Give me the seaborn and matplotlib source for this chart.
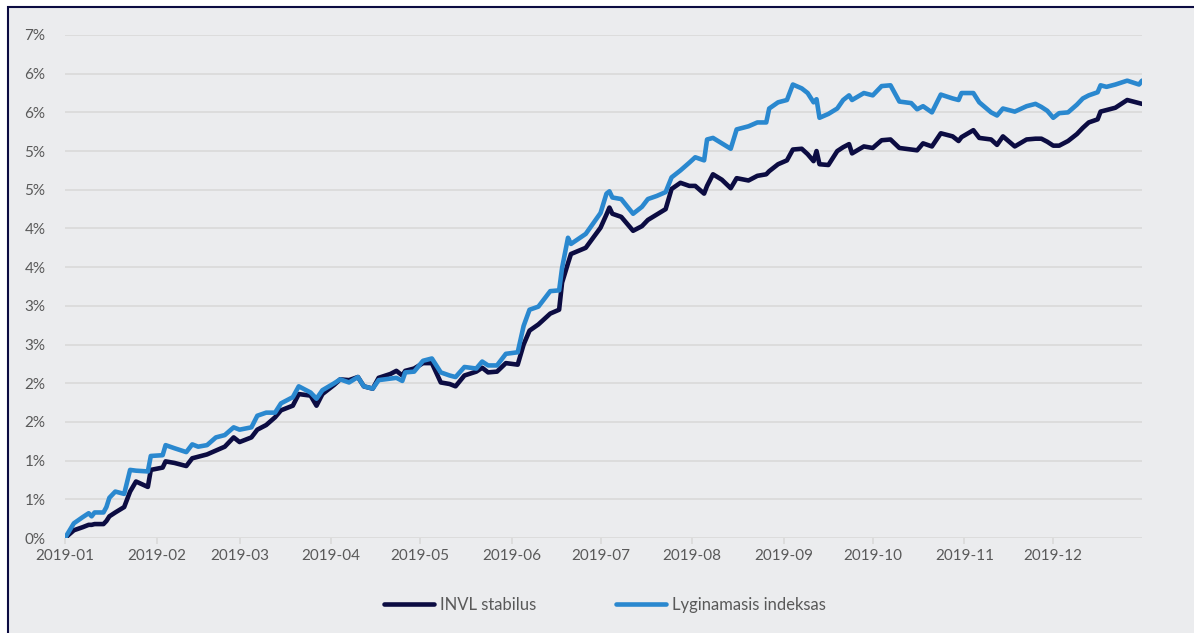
import matplotlib
matplotlib.use("Agg")
import matplotlib.pyplot as plt
import matplotlib.patches as mpatches
import numpy as np
import pandas as pd
import seaborn as sns

# ---------------- data ----------------
start_date = "2019-01-01"
day_offsets = [0, 3, 6, 8, 9, 10, 13, 14, 15, 17, 20, 22, 24, 28, 29, 33, 34, 37, 41, 43,
               45, 48, 51, 54, 57, 59, 63, 65, 68, 71, 73, 77, 79, 83, 85, 87, 91, 93, 96, 99,
               101, 104, 106, 110, 112, 114, 115, 118, 121, 124, 127, 130, 132, 135, 139, 141, 143, 146, 149, 153,
               155, 157, 160, 164, 167, 168, 170, 171, 176, 181, 183, 184, 185, 188, 192, 195, 197, 200, 203, 205,
               208, 211, 213, 216, 217, 219, 222, 225, 227, 231, 234, 237, 238, 241, 244, 246, 249, 251, 253, 254,
               255, 258, 261, 263, 265, 266, 270, 273, 276, 279, 282, 286, 288, 290, 293, 296, 300, 302, 303, 307,
               309, 313, 315, 317, 321, 325, 328, 330, 332, 334, 336, 339, 342, 344, 346, 349, 350, 352, 355, 359,
               363, 364]
invl = [0.00, 0.10, 0.14, 0.17, 0.17, 0.18, 0.18, 0.22, 0.28, 0.33, 0.40, 0.60, 0.73, 0.66, 0.88, 0.91, 0.99, 0.97, 0.93, 1.03,
        1.05, 1.08, 1.13, 1.18, 1.30, 1.24, 1.30, 1.40, 1.46, 1.56, 1.65, 1.71, 1.86, 1.84, 1.71, 1.86, 1.98, 2.05, 2.04, 2.08,
        1.96, 1.93, 2.07, 2.12, 2.16, 2.10, 2.16, 2.19, 2.26, 2.26, 2.01, 1.99, 1.96, 2.10, 2.15, 2.20, 2.14, 2.15, 2.26, 2.24,
        2.50, 2.68, 2.76, 2.90, 2.95, 3.30, 3.55, 3.67, 3.75, 4.01, 4.18, 4.27, 4.19, 4.15, 3.97, 4.03, 4.11, 4.18, 4.25, 4.51,
        4.59, 4.55, 4.55, 4.45, 4.55, 4.70, 4.63, 4.52, 4.65, 4.62, 4.68, 4.70, 4.74, 4.83, 4.88, 5.02, 5.03, 4.96, 4.87, 5.00,
        4.83, 4.82, 5.00, 5.05, 5.09, 4.97, 5.06, 5.04, 5.14, 5.15, 5.04, 5.02, 5.01, 5.10, 5.06, 5.23, 5.19, 5.13, 5.18, 5.27,
        5.17, 5.15, 5.08, 5.19, 5.06, 5.15, 5.16, 5.16, 5.12, 5.07, 5.07, 5.13, 5.22, 5.30, 5.37, 5.41, 5.51, 5.53, 5.56, 5.66,
        5.62, 5.61]
index = [0.00, 0.19, 0.27, 0.32, 0.28, 0.33, 0.33, 0.40, 0.52, 0.60, 0.57, 0.88, 0.87, 0.86, 1.06, 1.07, 1.20, 1.16, 1.11, 1.21,
         1.18, 1.20, 1.30, 1.33, 1.43, 1.40, 1.43, 1.58, 1.62, 1.62, 1.74, 1.82, 1.96, 1.88, 1.80, 1.91, 2.00, 2.05, 2.01, 2.08,
         1.96, 1.93, 2.04, 2.06, 2.07, 2.03, 2.14, 2.15, 2.29, 2.32, 2.14, 2.10, 2.08, 2.21, 2.19, 2.28, 2.23, 2.23, 2.38, 2.40,
         2.74, 2.95, 2.99, 3.19, 3.20, 3.49, 3.88, 3.80, 3.93, 4.20, 4.45, 4.48, 4.40, 4.38, 4.19, 4.28, 4.38, 4.42, 4.47, 4.66,
         4.75, 4.85, 4.92, 4.88, 5.15, 5.17, 5.10, 5.03, 5.28, 5.32, 5.37, 5.37, 5.55, 5.63, 5.66, 5.86, 5.81, 5.75, 5.63, 5.67,
         5.43, 5.48, 5.55, 5.66, 5.72, 5.66, 5.75, 5.72, 5.84, 5.85, 5.64, 5.62, 5.54, 5.58, 5.50, 5.73, 5.68, 5.66, 5.75, 5.75,
         5.63, 5.50, 5.46, 5.55, 5.51, 5.58, 5.61, 5.57, 5.52, 5.43, 5.49, 5.50, 5.60, 5.68, 5.72, 5.76, 5.85, 5.83, 5.86, 5.91,
         5.86, 5.91]
series_names = ["INVL stabilus", "Lyginamasis indeksas"]
y_ticks = [0.0, 0.5, 1.0, 1.5, 2.0, 2.5, 3.0, 3.5, 4.0, 4.5, 5.0, 5.5, 6.0, 6.5]
y_tick_labels = ["0%", "1%", "1%", "2%", "2%", "3%", "3%", "4%", "4%", "5%", "5%", "6%", "6%", "7%"]
month_ticks = ["2019-01", "2019-02", "2019-03", "2019-04", "2019-05", "2019-06",
               "2019-07", "2019-08", "2019-09", "2019-10", "2019-11", "2019-12"]

# ---------------- build frame ----------------
dates = pd.Timestamp(start_date) + pd.to_timedelta(day_offsets, unit="D")
df = pd.concat([
    pd.DataFrame({"date": dates, "value": invl, "series": series_names[0]}),
    pd.DataFrame({"date": dates, "value": index, "series": series_names[1]}),
])

# ---------------- style ----------------
sns.set_theme(style="white")
plt.rcParams["font.family"] = ["Lato", "DejaVu Sans"]

bg = "#EBECEE"
grid_c = "#D9D9D9"
text_c = "#595959"
colors = {series_names[0]: "#0C0C42", series_names[1]: "#2A88CF"}

fig = plt.figure(figsize=(11.94, 6.33), dpi=100)
fig.patch.set_facecolor("white")
W, H = 1194, 633
frame = mpatches.Rectangle((7.5 / W, -0.1), 1.2, (H - 7.5) / H + 0.1,
                           transform=fig.transFigure, facecolor=bg,
                           edgecolor="#0C0C42", linewidth=1.5, zorder=-10)
fig.patches.append(frame)

ax = fig.add_axes([65 / W, 1 - 538 / H, 1077 / W, 503 / H])
ax.set_facecolor("none")
ax.set_zorder(5)

sns.lineplot(data=df, x="date", y="value", hue="series", palette=colors,
             hue_order=series_names, linewidth=3.3, ax=ax, legend=True,
             estimator=None, sort=False)

ax.set_xlim(pd.Timestamp("2019-01-01"), pd.Timestamp("2019-12-31"))
ax.set_ylim(0, 6.5)
ax.set_yticks(y_ticks)
ax.set_yticklabels(y_tick_labels)
ax.set_xticks(pd.to_datetime(month_ticks))
ax.set_xticklabels(month_ticks)
ax.grid(axis="y", color=grid_c, linewidth=1.2)
ax.grid(axis="x", visible=False)
ax.set_axisbelow(True)
for s in ax.spines.values():
    s.set_visible(False)
ax.tick_params(axis="y", length=0, pad=14, labelsize=11, labelcolor=text_c)
ax.tick_params(axis="x", length=4, width=1.2, color=grid_c, direction="out",
               bottom=True, pad=4, labelsize=11, labelcolor=text_c)
ax.set_xlabel("")
ax.set_ylabel("")

handles, labels = ax.get_legend_handles_labels()
for h in handles:
    h.set_linewidth(3.3)
ax.legend(handles, labels, loc="center", bbox_to_anchor=(605 / W, 1 - 605 / H),
          bbox_transform=fig.transFigure, ncol=2, frameon=False,
          fontsize=12, labelcolor=text_c, handlelength=3.0,
          handletextpad=0.35, columnspacing=4.8)

fig.savefig("out.png", dpi=100, facecolor="white")
